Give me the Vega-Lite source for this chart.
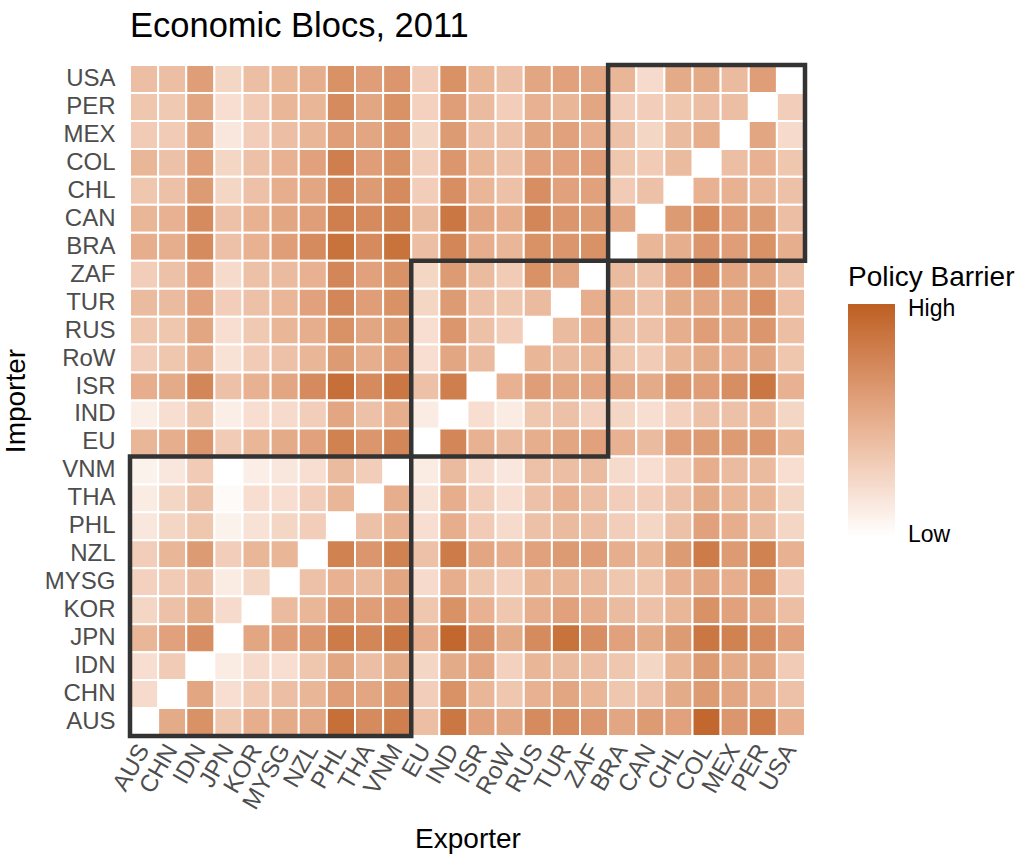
{
  "$schema": "https://vega.github.io/schema/vega-lite/v6.json",
  "autosize": "none",
  "width": 675,
  "height": 671,
  "padding": {"left": 130, "top": 65, "right": 221, "bottom": 120},
  "background": "white",
  "title": {
    "text": "Economic Blocs, 2011",
    "anchor": "start",
    "frame": "group",
    "font": "Liberation Sans",
    "fontSize": 34.5,
    "fontWeight": "normal",
    "color": "black",
    "offset": 18
  },
  "layer": [
    {
      "data": {"values": [
        {"importer":"USA","exporter":"AUS","barrier":0.40},{"importer":"USA","exporter":"CHN","barrier":0.40},{"importer":"USA","exporter":"IDN","barrier":0.60},{"importer":"USA","exporter":"JPN","barrier":0.25},{"importer":"USA","exporter":"KOR","barrier":0.40},{"importer":"USA","exporter":"MYSG","barrier":0.45},{"importer":"USA","exporter":"NZL","barrier":0.50},{"importer":"USA","exporter":"PHL","barrier":0.68},{"importer":"USA","exporter":"THA","barrier":0.60},{"importer":"USA","exporter":"VNM","barrier":0.65},{"importer":"USA","exporter":"EU","barrier":0.30},{"importer":"USA","exporter":"IND","barrier":0.68},{"importer":"USA","exporter":"ISR","barrier":0.45},{"importer":"USA","exporter":"RoW","barrier":0.38},{"importer":"USA","exporter":"RUS","barrier":0.55},{"importer":"USA","exporter":"TUR","barrier":0.58},{"importer":"USA","exporter":"ZAF","barrier":0.55},{"importer":"USA","exporter":"BRA","barrier":0.45},{"importer":"USA","exporter":"CAN","barrier":0.22},{"importer":"USA","exporter":"CHL","barrier":0.52},{"importer":"USA","exporter":"COL","barrier":0.52},{"importer":"USA","exporter":"MEX","barrier":0.42},{"importer":"USA","exporter":"PER","barrier":0.60},
        {"importer":"PER","exporter":"AUS","barrier":0.35},{"importer":"PER","exporter":"CHN","barrier":0.33},{"importer":"PER","exporter":"IDN","barrier":0.55},{"importer":"PER","exporter":"JPN","barrier":0.20},{"importer":"PER","exporter":"KOR","barrier":0.32},{"importer":"PER","exporter":"MYSG","barrier":0.45},{"importer":"PER","exporter":"NZL","barrier":0.45},{"importer":"PER","exporter":"PHL","barrier":0.72},{"importer":"PER","exporter":"THA","barrier":0.55},{"importer":"PER","exporter":"VNM","barrier":0.68},{"importer":"PER","exporter":"EU","barrier":0.28},{"importer":"PER","exporter":"IND","barrier":0.60},{"importer":"PER","exporter":"ISR","barrier":0.42},{"importer":"PER","exporter":"RoW","barrier":0.30},{"importer":"PER","exporter":"RUS","barrier":0.48},{"importer":"PER","exporter":"TUR","barrier":0.45},{"importer":"PER","exporter":"ZAF","barrier":0.55},{"importer":"PER","exporter":"BRA","barrier":0.30},{"importer":"PER","exporter":"CAN","barrier":0.30},{"importer":"PER","exporter":"CHL","barrier":0.35},{"importer":"PER","exporter":"COL","barrier":0.40},{"importer":"PER","exporter":"MEX","barrier":0.40},{"importer":"PER","exporter":"USA","barrier":0.30},
        {"importer":"MEX","exporter":"AUS","barrier":0.32},{"importer":"MEX","exporter":"CHN","barrier":0.32},{"importer":"MEX","exporter":"IDN","barrier":0.55},{"importer":"MEX","exporter":"JPN","barrier":0.15},{"importer":"MEX","exporter":"KOR","barrier":0.30},{"importer":"MEX","exporter":"MYSG","barrier":0.40},{"importer":"MEX","exporter":"NZL","barrier":0.45},{"importer":"MEX","exporter":"PHL","barrier":0.60},{"importer":"MEX","exporter":"THA","barrier":0.55},{"importer":"MEX","exporter":"VNM","barrier":0.65},{"importer":"MEX","exporter":"EU","barrier":0.25},{"importer":"MEX","exporter":"IND","barrier":0.62},{"importer":"MEX","exporter":"ISR","barrier":0.40},{"importer":"MEX","exporter":"RoW","barrier":0.38},{"importer":"MEX","exporter":"RUS","barrier":0.55},{"importer":"MEX","exporter":"TUR","barrier":0.58},{"importer":"MEX","exporter":"ZAF","barrier":0.50},{"importer":"MEX","exporter":"BRA","barrier":0.38},{"importer":"MEX","exporter":"CAN","barrier":0.25},{"importer":"MEX","exporter":"CHL","barrier":0.42},{"importer":"MEX","exporter":"COL","barrier":0.50},{"importer":"MEX","exporter":"PER","barrier":0.55},{"importer":"MEX","exporter":"USA","barrier":0.22},
        {"importer":"COL","exporter":"AUS","barrier":0.45},{"importer":"COL","exporter":"CHN","barrier":0.38},{"importer":"COL","exporter":"IDN","barrier":0.60},{"importer":"COL","exporter":"JPN","barrier":0.25},{"importer":"COL","exporter":"KOR","barrier":0.38},{"importer":"COL","exporter":"MYSG","barrier":0.48},{"importer":"COL","exporter":"NZL","barrier":0.58},{"importer":"COL","exporter":"PHL","barrier":0.80},{"importer":"COL","exporter":"THA","barrier":0.60},{"importer":"COL","exporter":"VNM","barrier":0.68},{"importer":"COL","exporter":"EU","barrier":0.30},{"importer":"COL","exporter":"IND","barrier":0.65},{"importer":"COL","exporter":"ISR","barrier":0.45},{"importer":"COL","exporter":"RoW","barrier":0.38},{"importer":"COL","exporter":"RUS","barrier":0.58},{"importer":"COL","exporter":"TUR","barrier":0.58},{"importer":"COL","exporter":"ZAF","barrier":0.60},{"importer":"COL","exporter":"BRA","barrier":0.35},{"importer":"COL","exporter":"CAN","barrier":0.32},{"importer":"COL","exporter":"CHL","barrier":0.42},{"importer":"COL","exporter":"MEX","barrier":0.40},{"importer":"COL","exporter":"PER","barrier":0.48},{"importer":"COL","exporter":"USA","barrier":0.35},
        {"importer":"CHL","exporter":"AUS","barrier":0.35},{"importer":"CHL","exporter":"CHN","barrier":0.38},{"importer":"CHL","exporter":"IDN","barrier":0.62},{"importer":"CHL","exporter":"JPN","barrier":0.25},{"importer":"CHL","exporter":"KOR","barrier":0.38},{"importer":"CHL","exporter":"MYSG","barrier":0.50},{"importer":"CHL","exporter":"NZL","barrier":0.55},{"importer":"CHL","exporter":"PHL","barrier":0.75},{"importer":"CHL","exporter":"THA","barrier":0.62},{"importer":"CHL","exporter":"VNM","barrier":0.72},{"importer":"CHL","exporter":"EU","barrier":0.30},{"importer":"CHL","exporter":"IND","barrier":0.70},{"importer":"CHL","exporter":"ISR","barrier":0.45},{"importer":"CHL","exporter":"RoW","barrier":0.38},{"importer":"CHL","exporter":"RUS","barrier":0.70},{"importer":"CHL","exporter":"TUR","barrier":0.58},{"importer":"CHL","exporter":"ZAF","barrier":0.58},{"importer":"CHL","exporter":"BRA","barrier":0.32},{"importer":"CHL","exporter":"CAN","barrier":0.38},{"importer":"CHL","exporter":"COL","barrier":0.48},{"importer":"CHL","exporter":"MEX","barrier":0.48},{"importer":"CHL","exporter":"PER","barrier":0.45},{"importer":"CHL","exporter":"USA","barrier":0.38},
        {"importer":"CAN","exporter":"AUS","barrier":0.45},{"importer":"CAN","exporter":"CHN","barrier":0.48},{"importer":"CAN","exporter":"IDN","barrier":0.72},{"importer":"CAN","exporter":"JPN","barrier":0.38},{"importer":"CAN","exporter":"KOR","barrier":0.48},{"importer":"CAN","exporter":"MYSG","barrier":0.55},{"importer":"CAN","exporter":"NZL","barrier":0.60},{"importer":"CAN","exporter":"PHL","barrier":0.80},{"importer":"CAN","exporter":"THA","barrier":0.72},{"importer":"CAN","exporter":"VNM","barrier":0.78},{"importer":"CAN","exporter":"EU","barrier":0.42},{"importer":"CAN","exporter":"IND","barrier":0.85},{"importer":"CAN","exporter":"ISR","barrier":0.55},{"importer":"CAN","exporter":"RoW","barrier":0.50},{"importer":"CAN","exporter":"RUS","barrier":0.75},{"importer":"CAN","exporter":"TUR","barrier":0.65},{"importer":"CAN","exporter":"ZAF","barrier":0.62},{"importer":"CAN","exporter":"BRA","barrier":0.55},{"importer":"CAN","exporter":"CHL","barrier":0.62},{"importer":"CAN","exporter":"COL","barrier":0.72},{"importer":"CAN","exporter":"MEX","barrier":0.60},{"importer":"CAN","exporter":"PER","barrier":0.62},{"importer":"CAN","exporter":"USA","barrier":0.40},
        {"importer":"BRA","exporter":"AUS","barrier":0.50},{"importer":"BRA","exporter":"CHN","barrier":0.50},{"importer":"BRA","exporter":"IDN","barrier":0.72},{"importer":"BRA","exporter":"JPN","barrier":0.38},{"importer":"BRA","exporter":"KOR","barrier":0.48},{"importer":"BRA","exporter":"MYSG","barrier":0.60},{"importer":"BRA","exporter":"NZL","barrier":0.72},{"importer":"BRA","exporter":"PHL","barrier":0.88},{"importer":"BRA","exporter":"THA","barrier":0.72},{"importer":"BRA","exporter":"VNM","barrier":0.88},{"importer":"BRA","exporter":"EU","barrier":0.40},{"importer":"BRA","exporter":"IND","barrier":0.75},{"importer":"BRA","exporter":"ISR","barrier":0.50},{"importer":"BRA","exporter":"RoW","barrier":0.45},{"importer":"BRA","exporter":"RUS","barrier":0.68},{"importer":"BRA","exporter":"TUR","barrier":0.65},{"importer":"BRA","exporter":"ZAF","barrier":0.68},{"importer":"BRA","exporter":"CAN","barrier":0.45},{"importer":"BRA","exporter":"CHL","barrier":0.50},{"importer":"BRA","exporter":"COL","barrier":0.65},{"importer":"BRA","exporter":"MEX","barrier":0.60},{"importer":"BRA","exporter":"PER","barrier":0.68},{"importer":"BRA","exporter":"USA","barrier":0.50},
        {"importer":"ZAF","exporter":"AUS","barrier":0.30},{"importer":"ZAF","exporter":"CHN","barrier":0.38},{"importer":"ZAF","exporter":"IDN","barrier":0.58},{"importer":"ZAF","exporter":"JPN","barrier":0.22},{"importer":"ZAF","exporter":"KOR","barrier":0.38},{"importer":"ZAF","exporter":"MYSG","barrier":0.42},{"importer":"ZAF","exporter":"NZL","barrier":0.48},{"importer":"ZAF","exporter":"PHL","barrier":0.75},{"importer":"ZAF","exporter":"THA","barrier":0.58},{"importer":"ZAF","exporter":"VNM","barrier":0.68},{"importer":"ZAF","exporter":"EU","barrier":0.25},{"importer":"ZAF","exporter":"IND","barrier":0.62},{"importer":"ZAF","exporter":"ISR","barrier":0.42},{"importer":"ZAF","exporter":"RoW","barrier":0.32},{"importer":"ZAF","exporter":"RUS","barrier":0.68},{"importer":"ZAF","exporter":"TUR","barrier":0.55},{"importer":"ZAF","exporter":"BRA","barrier":0.42},{"importer":"ZAF","exporter":"CAN","barrier":0.38},{"importer":"ZAF","exporter":"CHL","barrier":0.58},{"importer":"ZAF","exporter":"COL","barrier":0.70},{"importer":"ZAF","exporter":"MEX","barrier":0.55},{"importer":"ZAF","exporter":"PER","barrier":0.55},{"importer":"ZAF","exporter":"USA","barrier":0.38},
        {"importer":"TUR","exporter":"AUS","barrier":0.42},{"importer":"TUR","exporter":"CHN","barrier":0.42},{"importer":"TUR","exporter":"IDN","barrier":0.58},{"importer":"TUR","exporter":"JPN","barrier":0.30},{"importer":"TUR","exporter":"KOR","barrier":0.38},{"importer":"TUR","exporter":"MYSG","barrier":0.45},{"importer":"TUR","exporter":"NZL","barrier":0.58},{"importer":"TUR","exporter":"PHL","barrier":0.75},{"importer":"TUR","exporter":"THA","barrier":0.60},{"importer":"TUR","exporter":"VNM","barrier":0.68},{"importer":"TUR","exporter":"EU","barrier":0.25},{"importer":"TUR","exporter":"IND","barrier":0.62},{"importer":"TUR","exporter":"ISR","barrier":0.38},{"importer":"TUR","exporter":"RoW","barrier":0.35},{"importer":"TUR","exporter":"RUS","barrier":0.42},{"importer":"TUR","exporter":"ZAF","barrier":0.50},{"importer":"TUR","exporter":"BRA","barrier":0.45},{"importer":"TUR","exporter":"CAN","barrier":0.38},{"importer":"TUR","exporter":"CHL","barrier":0.52},{"importer":"TUR","exporter":"COL","barrier":0.55},{"importer":"TUR","exporter":"MEX","barrier":0.55},{"importer":"TUR","exporter":"PER","barrier":0.70},{"importer":"TUR","exporter":"USA","barrier":0.40},
        {"importer":"RUS","exporter":"AUS","barrier":0.35},{"importer":"RUS","exporter":"CHN","barrier":0.35},{"importer":"RUS","exporter":"IDN","barrier":0.55},{"importer":"RUS","exporter":"JPN","barrier":0.20},{"importer":"RUS","exporter":"KOR","barrier":0.33},{"importer":"RUS","exporter":"MYSG","barrier":0.45},{"importer":"RUS","exporter":"NZL","barrier":0.50},{"importer":"RUS","exporter":"PHL","barrier":0.68},{"importer":"RUS","exporter":"THA","barrier":0.55},{"importer":"RUS","exporter":"VNM","barrier":0.62},{"importer":"RUS","exporter":"EU","barrier":0.20},{"importer":"RUS","exporter":"IND","barrier":0.65},{"importer":"RUS","exporter":"ISR","barrier":0.38},{"importer":"RUS","exporter":"RoW","barrier":0.30},{"importer":"RUS","exporter":"TUR","barrier":0.42},{"importer":"RUS","exporter":"ZAF","barrier":0.50},{"importer":"RUS","exporter":"BRA","barrier":0.38},{"importer":"RUS","exporter":"CAN","barrier":0.38},{"importer":"RUS","exporter":"CHL","barrier":0.50},{"importer":"RUS","exporter":"COL","barrier":0.60},{"importer":"RUS","exporter":"MEX","barrier":0.55},{"importer":"RUS","exporter":"PER","barrier":0.65},{"importer":"RUS","exporter":"USA","barrier":0.40},
        {"importer":"RoW","exporter":"AUS","barrier":0.30},{"importer":"RoW","exporter":"CHN","barrier":0.35},{"importer":"RoW","exporter":"IDN","barrier":0.50},{"importer":"RoW","exporter":"JPN","barrier":0.18},{"importer":"RoW","exporter":"KOR","barrier":0.32},{"importer":"RoW","exporter":"MYSG","barrier":0.38},{"importer":"RoW","exporter":"NZL","barrier":0.45},{"importer":"RoW","exporter":"PHL","barrier":0.62},{"importer":"RoW","exporter":"THA","barrier":0.50},{"importer":"RoW","exporter":"VNM","barrier":0.60},{"importer":"RoW","exporter":"EU","barrier":0.20},{"importer":"RoW","exporter":"IND","barrier":0.55},{"importer":"RoW","exporter":"ISR","barrier":0.42},{"importer":"RoW","exporter":"RUS","barrier":0.45},{"importer":"RoW","exporter":"TUR","barrier":0.42},{"importer":"RoW","exporter":"ZAF","barrier":0.45},{"importer":"RoW","exporter":"BRA","barrier":0.35},{"importer":"RoW","exporter":"CAN","barrier":0.32},{"importer":"RoW","exporter":"CHL","barrier":0.45},{"importer":"RoW","exporter":"COL","barrier":0.52},{"importer":"RoW","exporter":"MEX","barrier":0.50},{"importer":"RoW","exporter":"PER","barrier":0.55},{"importer":"RoW","exporter":"USA","barrier":0.35},
        {"importer":"ISR","exporter":"AUS","barrier":0.50},{"importer":"ISR","exporter":"CHN","barrier":0.52},{"importer":"ISR","exporter":"IDN","barrier":0.75},{"importer":"ISR","exporter":"JPN","barrier":0.38},{"importer":"ISR","exporter":"KOR","barrier":0.48},{"importer":"ISR","exporter":"MYSG","barrier":0.55},{"importer":"ISR","exporter":"NZL","barrier":0.72},{"importer":"ISR","exporter":"PHL","barrier":0.90},{"importer":"ISR","exporter":"THA","barrier":0.72},{"importer":"ISR","exporter":"VNM","barrier":0.85},{"importer":"ISR","exporter":"EU","barrier":0.38},{"importer":"ISR","exporter":"IND","barrier":0.80},{"importer":"ISR","exporter":"RoW","barrier":0.48},{"importer":"ISR","exporter":"RUS","barrier":0.60},{"importer":"ISR","exporter":"TUR","barrier":0.55},{"importer":"ISR","exporter":"ZAF","barrier":0.55},{"importer":"ISR","exporter":"BRA","barrier":0.55},{"importer":"ISR","exporter":"CAN","barrier":0.52},{"importer":"ISR","exporter":"CHL","barrier":0.65},{"importer":"ISR","exporter":"COL","barrier":0.60},{"importer":"ISR","exporter":"MEX","barrier":0.70},{"importer":"ISR","exporter":"PER","barrier":0.85},{"importer":"ISR","exporter":"USA","barrier":0.48},
        {"importer":"IND","exporter":"AUS","barrier":0.10},{"importer":"IND","exporter":"CHN","barrier":0.20},{"importer":"IND","exporter":"IDN","barrier":0.35},{"importer":"IND","exporter":"JPN","barrier":0.10},{"importer":"IND","exporter":"KOR","barrier":0.20},{"importer":"IND","exporter":"MYSG","barrier":0.22},{"importer":"IND","exporter":"NZL","barrier":0.30},{"importer":"IND","exporter":"PHL","barrier":0.55},{"importer":"IND","exporter":"THA","barrier":0.38},{"importer":"IND","exporter":"VNM","barrier":0.50},{"importer":"IND","exporter":"EU","barrier":0.12},{"importer":"IND","exporter":"ISR","barrier":0.20},{"importer":"IND","exporter":"RoW","barrier":0.12},{"importer":"IND","exporter":"RUS","barrier":0.35},{"importer":"IND","exporter":"TUR","barrier":0.38},{"importer":"IND","exporter":"ZAF","barrier":0.28},{"importer":"IND","exporter":"BRA","barrier":0.25},{"importer":"IND","exporter":"CAN","barrier":0.20},{"importer":"IND","exporter":"CHL","barrier":0.28},{"importer":"IND","exporter":"COL","barrier":0.38},{"importer":"IND","exporter":"MEX","barrier":0.38},{"importer":"IND","exporter":"PER","barrier":0.45},{"importer":"IND","exporter":"USA","barrier":0.25},
        {"importer":"EU","exporter":"AUS","barrier":0.45},{"importer":"EU","exporter":"CHN","barrier":0.50},{"importer":"EU","exporter":"IDN","barrier":0.65},{"importer":"EU","exporter":"JPN","barrier":0.32},{"importer":"EU","exporter":"KOR","barrier":0.45},{"importer":"EU","exporter":"MYSG","barrier":0.52},{"importer":"EU","exporter":"NZL","barrier":0.58},{"importer":"EU","exporter":"PHL","barrier":0.78},{"importer":"EU","exporter":"THA","barrier":0.65},{"importer":"EU","exporter":"VNM","barrier":0.75},{"importer":"EU","exporter":"IND","barrier":0.75},{"importer":"EU","exporter":"ISR","barrier":0.48},{"importer":"EU","exporter":"RoW","barrier":0.42},{"importer":"EU","exporter":"RUS","barrier":0.50},{"importer":"EU","exporter":"TUR","barrier":0.55},{"importer":"EU","exporter":"ZAF","barrier":0.58},{"importer":"EU","exporter":"BRA","barrier":0.48},{"importer":"EU","exporter":"CAN","barrier":0.42},{"importer":"EU","exporter":"CHL","barrier":0.60},{"importer":"EU","exporter":"COL","barrier":0.62},{"importer":"EU","exporter":"MEX","barrier":0.62},{"importer":"EU","exporter":"PER","barrier":0.65},{"importer":"EU","exporter":"USA","barrier":0.45},
        {"importer":"VNM","exporter":"AUS","barrier":0.08},{"importer":"VNM","exporter":"CHN","barrier":0.15},{"importer":"VNM","exporter":"IDN","barrier":0.32},{"importer":"VNM","exporter":"JPN","barrier":0.00},{"importer":"VNM","exporter":"KOR","barrier":0.10},{"importer":"VNM","exporter":"MYSG","barrier":0.15},{"importer":"VNM","exporter":"NZL","barrier":0.20},{"importer":"VNM","exporter":"PHL","barrier":0.42},{"importer":"VNM","exporter":"THA","barrier":0.30},{"importer":"VNM","exporter":"EU","barrier":0.12},{"importer":"VNM","exporter":"IND","barrier":0.42},{"importer":"VNM","exporter":"ISR","barrier":0.22},{"importer":"VNM","exporter":"RoW","barrier":0.15},{"importer":"VNM","exporter":"RUS","barrier":0.38},{"importer":"VNM","exporter":"TUR","barrier":0.40},{"importer":"VNM","exporter":"ZAF","barrier":0.42},{"importer":"VNM","exporter":"BRA","barrier":0.22},{"importer":"VNM","exporter":"CAN","barrier":0.20},{"importer":"VNM","exporter":"CHL","barrier":0.30},{"importer":"VNM","exporter":"COL","barrier":0.50},{"importer":"VNM","exporter":"MEX","barrier":0.42},{"importer":"VNM","exporter":"PER","barrier":0.42},{"importer":"VNM","exporter":"USA","barrier":0.20},
        {"importer":"THA","exporter":"AUS","barrier":0.12},{"importer":"THA","exporter":"CHN","barrier":0.25},{"importer":"THA","exporter":"IDN","barrier":0.38},{"importer":"THA","exporter":"JPN","barrier":0.03},{"importer":"THA","exporter":"KOR","barrier":0.20},{"importer":"THA","exporter":"MYSG","barrier":0.20},{"importer":"THA","exporter":"NZL","barrier":0.30},{"importer":"THA","exporter":"PHL","barrier":0.45},{"importer":"THA","exporter":"VNM","barrier":0.50},{"importer":"THA","exporter":"EU","barrier":0.18},{"importer":"THA","exporter":"IND","barrier":0.50},{"importer":"THA","exporter":"ISR","barrier":0.30},{"importer":"THA","exporter":"RoW","barrier":0.20},{"importer":"THA","exporter":"RUS","barrier":0.38},{"importer":"THA","exporter":"TUR","barrier":0.48},{"importer":"THA","exporter":"ZAF","barrier":0.40},{"importer":"THA","exporter":"BRA","barrier":0.30},{"importer":"THA","exporter":"CAN","barrier":0.30},{"importer":"THA","exporter":"CHL","barrier":0.38},{"importer":"THA","exporter":"COL","barrier":0.52},{"importer":"THA","exporter":"MEX","barrier":0.45},{"importer":"THA","exporter":"PER","barrier":0.45},{"importer":"THA","exporter":"USA","barrier":0.25},
        {"importer":"PHL","exporter":"AUS","barrier":0.15},{"importer":"PHL","exporter":"CHN","barrier":0.25},{"importer":"PHL","exporter":"IDN","barrier":0.35},{"importer":"PHL","exporter":"JPN","barrier":0.08},{"importer":"PHL","exporter":"KOR","barrier":0.18},{"importer":"PHL","exporter":"MYSG","barrier":0.25},{"importer":"PHL","exporter":"NZL","barrier":0.30},{"importer":"PHL","exporter":"THA","barrier":0.38},{"importer":"PHL","exporter":"VNM","barrier":0.48},{"importer":"PHL","exporter":"EU","barrier":0.20},{"importer":"PHL","exporter":"IND","barrier":0.50},{"importer":"PHL","exporter":"ISR","barrier":0.32},{"importer":"PHL","exporter":"RoW","barrier":0.22},{"importer":"PHL","exporter":"RUS","barrier":0.38},{"importer":"PHL","exporter":"TUR","barrier":0.42},{"importer":"PHL","exporter":"ZAF","barrier":0.40},{"importer":"PHL","exporter":"BRA","barrier":0.30},{"importer":"PHL","exporter":"CAN","barrier":0.25},{"importer":"PHL","exporter":"CHL","barrier":0.38},{"importer":"PHL","exporter":"COL","barrier":0.58},{"importer":"PHL","exporter":"MEX","barrier":0.50},{"importer":"PHL","exporter":"PER","barrier":0.42},{"importer":"PHL","exporter":"USA","barrier":0.25},
        {"importer":"NZL","exporter":"AUS","barrier":0.30},{"importer":"NZL","exporter":"CHN","barrier":0.45},{"importer":"NZL","exporter":"IDN","barrier":0.62},{"importer":"NZL","exporter":"JPN","barrier":0.30},{"importer":"NZL","exporter":"KOR","barrier":0.45},{"importer":"NZL","exporter":"MYSG","barrier":0.45},{"importer":"NZL","exporter":"PHL","barrier":0.78},{"importer":"NZL","exporter":"THA","barrier":0.65},{"importer":"NZL","exporter":"VNM","barrier":0.78},{"importer":"NZL","exporter":"EU","barrier":0.38},{"importer":"NZL","exporter":"IND","barrier":0.82},{"importer":"NZL","exporter":"ISR","barrier":0.55},{"importer":"NZL","exporter":"RoW","barrier":0.50},{"importer":"NZL","exporter":"RUS","barrier":0.58},{"importer":"NZL","exporter":"TUR","barrier":0.62},{"importer":"NZL","exporter":"ZAF","barrier":0.60},{"importer":"NZL","exporter":"BRA","barrier":0.50},{"importer":"NZL","exporter":"CAN","barrier":0.45},{"importer":"NZL","exporter":"CHL","barrier":0.62},{"importer":"NZL","exporter":"COL","barrier":0.82},{"importer":"NZL","exporter":"MEX","barrier":0.62},{"importer":"NZL","exporter":"PER","barrier":0.78},{"importer":"NZL","exporter":"USA","barrier":0.48},
        {"importer":"MYSG","exporter":"AUS","barrier":0.28},{"importer":"MYSG","exporter":"CHN","barrier":0.32},{"importer":"MYSG","exporter":"IDN","barrier":0.40},{"importer":"MYSG","exporter":"JPN","barrier":0.12},{"importer":"MYSG","exporter":"KOR","barrier":0.25},{"importer":"MYSG","exporter":"NZL","barrier":0.38},{"importer":"MYSG","exporter":"PHL","barrier":0.48},{"importer":"MYSG","exporter":"THA","barrier":0.42},{"importer":"MYSG","exporter":"VNM","barrier":0.55},{"importer":"MYSG","exporter":"EU","barrier":0.22},{"importer":"MYSG","exporter":"IND","barrier":0.50},{"importer":"MYSG","exporter":"ISR","barrier":0.35},{"importer":"MYSG","exporter":"RoW","barrier":0.28},{"importer":"MYSG","exporter":"RUS","barrier":0.45},{"importer":"MYSG","exporter":"TUR","barrier":0.45},{"importer":"MYSG","exporter":"ZAF","barrier":0.42},{"importer":"MYSG","exporter":"BRA","barrier":0.35},{"importer":"MYSG","exporter":"CAN","barrier":0.35},{"importer":"MYSG","exporter":"CHL","barrier":0.48},{"importer":"MYSG","exporter":"COL","barrier":0.55},{"importer":"MYSG","exporter":"MEX","barrier":0.50},{"importer":"MYSG","exporter":"PER","barrier":0.68},{"importer":"MYSG","exporter":"USA","barrier":0.30},
        {"importer":"KOR","exporter":"AUS","barrier":0.25},{"importer":"KOR","exporter":"CHN","barrier":0.38},{"importer":"KOR","exporter":"IDN","barrier":0.52},{"importer":"KOR","exporter":"JPN","barrier":0.22},{"importer":"KOR","exporter":"MYSG","barrier":0.42},{"importer":"KOR","exporter":"NZL","barrier":0.45},{"importer":"KOR","exporter":"PHL","barrier":0.65},{"importer":"KOR","exporter":"THA","barrier":0.60},{"importer":"KOR","exporter":"VNM","barrier":0.65},{"importer":"KOR","exporter":"EU","barrier":0.35},{"importer":"KOR","exporter":"IND","barrier":0.68},{"importer":"KOR","exporter":"ISR","barrier":0.48},{"importer":"KOR","exporter":"RoW","barrier":0.35},{"importer":"KOR","exporter":"RUS","barrier":0.50},{"importer":"KOR","exporter":"TUR","barrier":0.58},{"importer":"KOR","exporter":"ZAF","barrier":0.50},{"importer":"KOR","exporter":"BRA","barrier":0.42},{"importer":"KOR","exporter":"CAN","barrier":0.38},{"importer":"KOR","exporter":"CHL","barrier":0.45},{"importer":"KOR","exporter":"COL","barrier":0.68},{"importer":"KOR","exporter":"MEX","barrier":0.58},{"importer":"KOR","exporter":"PER","barrier":0.55},{"importer":"KOR","exporter":"USA","barrier":0.40},
        {"importer":"JPN","exporter":"AUS","barrier":0.45},{"importer":"JPN","exporter":"CHN","barrier":0.58},{"importer":"JPN","exporter":"IDN","barrier":0.70},{"importer":"JPN","exporter":"KOR","barrier":0.55},{"importer":"JPN","exporter":"MYSG","barrier":0.60},{"importer":"JPN","exporter":"NZL","barrier":0.65},{"importer":"JPN","exporter":"PHL","barrier":0.82},{"importer":"JPN","exporter":"THA","barrier":0.75},{"importer":"JPN","exporter":"VNM","barrier":0.85},{"importer":"JPN","exporter":"EU","barrier":0.50},{"importer":"JPN","exporter":"IND","barrier":0.95},{"importer":"JPN","exporter":"ISR","barrier":0.70},{"importer":"JPN","exporter":"RoW","barrier":0.52},{"importer":"JPN","exporter":"RUS","barrier":0.72},{"importer":"JPN","exporter":"TUR","barrier":0.88},{"importer":"JPN","exporter":"ZAF","barrier":0.70},{"importer":"JPN","exporter":"BRA","barrier":0.58},{"importer":"JPN","exporter":"CAN","barrier":0.52},{"importer":"JPN","exporter":"CHL","barrier":0.62},{"importer":"JPN","exporter":"COL","barrier":0.85},{"importer":"JPN","exporter":"MEX","barrier":0.78},{"importer":"JPN","exporter":"PER","barrier":0.72},{"importer":"JPN","exporter":"USA","barrier":0.58},
        {"importer":"IDN","exporter":"AUS","barrier":0.20},{"importer":"IDN","exporter":"CHN","barrier":0.32},{"importer":"IDN","exporter":"JPN","barrier":0.12},{"importer":"IDN","exporter":"KOR","barrier":0.22},{"importer":"IDN","exporter":"MYSG","barrier":0.20},{"importer":"IDN","exporter":"NZL","barrier":0.35},{"importer":"IDN","exporter":"PHL","barrier":0.55},{"importer":"IDN","exporter":"THA","barrier":0.40},{"importer":"IDN","exporter":"VNM","barrier":0.52},{"importer":"IDN","exporter":"EU","barrier":0.25},{"importer":"IDN","exporter":"IND","barrier":0.52},{"importer":"IDN","exporter":"ISR","barrier":0.55},{"importer":"IDN","exporter":"RoW","barrier":0.28},{"importer":"IDN","exporter":"RUS","barrier":0.45},{"importer":"IDN","exporter":"TUR","barrier":0.42},{"importer":"IDN","exporter":"ZAF","barrier":0.40},{"importer":"IDN","exporter":"BRA","barrier":0.35},{"importer":"IDN","exporter":"CAN","barrier":0.25},{"importer":"IDN","exporter":"CHL","barrier":0.45},{"importer":"IDN","exporter":"COL","barrier":0.62},{"importer":"IDN","exporter":"MEX","barrier":0.52},{"importer":"IDN","exporter":"PER","barrier":0.55},{"importer":"IDN","exporter":"USA","barrier":0.32},
        {"importer":"CHN","exporter":"AUS","barrier":0.22},{"importer":"CHN","exporter":"IDN","barrier":0.55},{"importer":"CHN","exporter":"JPN","barrier":0.20},{"importer":"CHN","exporter":"KOR","barrier":0.32},{"importer":"CHN","exporter":"MYSG","barrier":0.40},{"importer":"CHN","exporter":"NZL","barrier":0.45},{"importer":"CHN","exporter":"PHL","barrier":0.60},{"importer":"CHN","exporter":"THA","barrier":0.55},{"importer":"CHN","exporter":"VNM","barrier":0.65},{"importer":"CHN","exporter":"EU","barrier":0.30},{"importer":"CHN","exporter":"IND","barrier":0.68},{"importer":"CHN","exporter":"ISR","barrier":0.45},{"importer":"CHN","exporter":"RoW","barrier":0.35},{"importer":"CHN","exporter":"RUS","barrier":0.48},{"importer":"CHN","exporter":"TUR","barrier":0.55},{"importer":"CHN","exporter":"ZAF","barrier":0.45},{"importer":"CHN","exporter":"BRA","barrier":0.35},{"importer":"CHN","exporter":"CAN","barrier":0.38},{"importer":"CHN","exporter":"CHL","barrier":0.52},{"importer":"CHN","exporter":"COL","barrier":0.62},{"importer":"CHN","exporter":"MEX","barrier":0.55},{"importer":"CHN","exporter":"PER","barrier":0.50},{"importer":"CHN","exporter":"USA","barrier":0.38},
        {"importer":"AUS","exporter":"CHN","barrier":0.52},{"importer":"AUS","exporter":"IDN","barrier":0.68},{"importer":"AUS","exporter":"JPN","barrier":0.35},{"importer":"AUS","exporter":"KOR","barrier":0.50},{"importer":"AUS","exporter":"MYSG","barrier":0.52},{"importer":"AUS","exporter":"NZL","barrier":0.55},{"importer":"AUS","exporter":"PHL","barrier":0.90},{"importer":"AUS","exporter":"THA","barrier":0.72},{"importer":"AUS","exporter":"VNM","barrier":0.80},{"importer":"AUS","exporter":"EU","barrier":0.40},{"importer":"AUS","exporter":"IND","barrier":0.85},{"importer":"AUS","exporter":"ISR","barrier":0.58},{"importer":"AUS","exporter":"RoW","barrier":0.55},{"importer":"AUS","exporter":"RUS","barrier":0.72},{"importer":"AUS","exporter":"TUR","barrier":0.72},{"importer":"AUS","exporter":"ZAF","barrier":0.65},{"importer":"AUS","exporter":"BRA","barrier":0.55},{"importer":"AUS","exporter":"CAN","barrier":0.62},{"importer":"AUS","exporter":"CHL","barrier":0.58},{"importer":"AUS","exporter":"COL","barrier":0.95},{"importer":"AUS","exporter":"MEX","barrier":0.65},{"importer":"AUS","exporter":"PER","barrier":0.82},{"importer":"AUS","exporter":"USA","barrier":0.50}
      ]},
      "mark": {"type": "rect", "stroke": "white", "strokeWidth": 2},
      "encoding": {
        "x": {
          "field": "exporter", "type": "nominal",
          "sort": ["AUS","CHN","IDN","JPN","KOR","MYSG","NZL","PHL","THA","VNM","EU","IND","ISR","RoW","RUS","TUR","ZAF","BRA","CAN","CHL","COL","MEX","PER","USA"],
          "title": "Exporter",
          "axis": {
            "labelAngle": -60, "labelFontSize": 24, "labelColor": "#4D4D4D", "labelFont": "Liberation Sans",
            "ticks": false, "domain": false, "grid": false, "labelPadding": 10,
            "titleFontSize": 28, "titleFontWeight": "normal", "titleColor": "black", "titleFont": "Liberation Sans", "titlePadding": 12
          }
        },
        "y": {
          "field": "importer", "type": "nominal",
          "sort": ["USA","PER","MEX","COL","CHL","CAN","BRA","ZAF","TUR","RUS","RoW","ISR","IND","EU","VNM","THA","PHL","NZL","MYSG","KOR","JPN","IDN","CHN","AUS"],
          "title": "Importer",
          "axis": {
            "labelFontSize": 24, "labelColor": "#4D4D4D", "labelFont": "Liberation Sans",
            "ticks": false, "domain": false, "grid": false, "labelPadding": 15,
            "titleFontSize": 28, "titleFontWeight": "normal", "titleColor": "black", "titleFont": "Liberation Sans", "titlePadding": 14
          }
        },
        "color": {
          "field": "barrier", "type": "quantitative",
          "scale": {"domain": [0, 1], "range": ["#FFFFFF", "#BD5F22"], "interpolate": "lab"},
          "legend": {
            "title": "Policy Barrier",
            "orient": "none", "legendX": 718, "legendY": 199,
            "direction": "vertical",
            "values": [0.005, 0.98],
            "labelExpr": "datum.value >= 0.5 ? 'High' : 'Low'",
            "gradientLength": 232, "gradientThickness": 47, "gradientStrokeWidth": 0,
            "labelFontSize": 23, "labelColor": "black", "labelFont": "Liberation Sans", "labelOffset": 13,
            "labelBaseline": "middle",
            "titleFontSize": 28, "titleFontWeight": "normal", "titleColor": "black", "titleFont": "Liberation Sans", "titlePadding": 12
          }
        }
      }
    },
    {
      "data": {"values": [
        {"bloc": "Asia-Pacific", "x0": 0, "x1": 10, "y0": 0, "y1": 10},
        {"bloc": "Other", "x0": 10, "x1": 17, "y0": 10, "y1": 17},
        {"bloc": "Americas", "x0": 17, "x1": 24, "y0": 17, "y1": 24}
      ]},
      "mark": {"type": "rect", "filled": false, "stroke": "#333333", "strokeWidth": 4.5},
      "encoding": {
        "x": {"field": "x0", "type": "quantitative", "scale": {"domain": [0, 24], "nice": false, "zero": false}, "axis": null},
        "x2": {"field": "x1"},
        "y": {"field": "y0", "type": "quantitative", "scale": {"domain": [0, 24], "nice": false, "zero": false}, "axis": null},
        "y2": {"field": "y1"}
      }
    }
  ],
  "resolve": {"scale": {"x": "independent", "y": "independent"}},
  "config": {"view": {"stroke": null}, "font": "Liberation Sans"}
}
